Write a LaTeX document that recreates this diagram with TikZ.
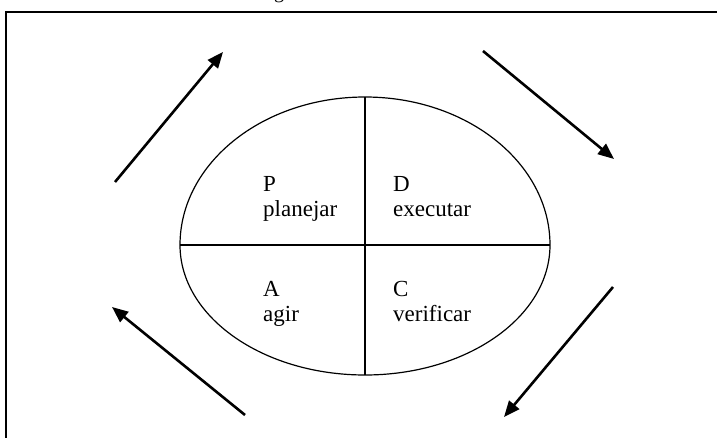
\documentclass[tikz,border=0pt]{standalone}
\usepackage{fontspec}
\setmainfont{Liberation Serif}
\usetikzlibrary{arrows.meta,positioning,shapes.geometric}

\begin{document}
\begin{tikzpicture}[x=1pt,y=-1pt,>={Triangle[length=16pt,width=13pt]}]
  \tikzstyle{phase}=[anchor=north west,align=left,inner sep=0pt,font=\fontsize{23}{25}\selectfont]
  \tikzstyle{turn}=[->,line width=2.6pt]
  \useasboundingbox (0,0) rectangle (717,438);
  \clip (0,0) rectangle (717,438);
  % frame and cut caption
  \draw[line width=1.3pt] (760,12) -- (6,12) -- (6,480);
  \node[anchor=base,inner sep=0pt,font=\fontsize{20}{24}\selectfont] (cap) at (279,-1) {g};
  % the cycle, a bit fuller above the middle line
  \coordinate (cw) at (180,245);
  \coordinate (ce) at (550,245);
  \coordinate (cn) at (365,97);
  \coordinate (cs) at (365,375);
  \draw[line width=1.2pt] (cw) arc[start angle=180,end angle=0,x radius=185,y radius=-148]
    arc[start angle=0,end angle=-180,x radius=185,y radius=-130];
  \draw[line width=1.4pt] (cn) -- (cs);
  \draw[line width=1.4pt] (cw) -- (ce);
  \node[phase] (plan) at (263,176) {P\\planejar};
  \node[phase] (exec) at (393,176) {D\\executar};
  \node[phase] (act) at (263,281) {A\\agir};
  \node[phase] (check) at (393,281) {C\\verificar};
  % arrows round the cycle
  \coordinate (tla) at (115,182);
  \coordinate (tlb) at (223,52);
  \coordinate (tra) at (483,51);
  \coordinate (trb) at (614,159);
  \coordinate (bra) at (613,287);
  \coordinate (brb) at (504,417);
  \coordinate (bla) at (245,415);
  \coordinate (blb) at (112,307);
  \draw[turn] (tla) -- (tlb);
  \draw[turn] (tra) -- (trb);
  \draw[turn] (bra) -- (brb);
  \draw[turn] (bla) -- (blb);
\end{tikzpicture}
\end{document}
